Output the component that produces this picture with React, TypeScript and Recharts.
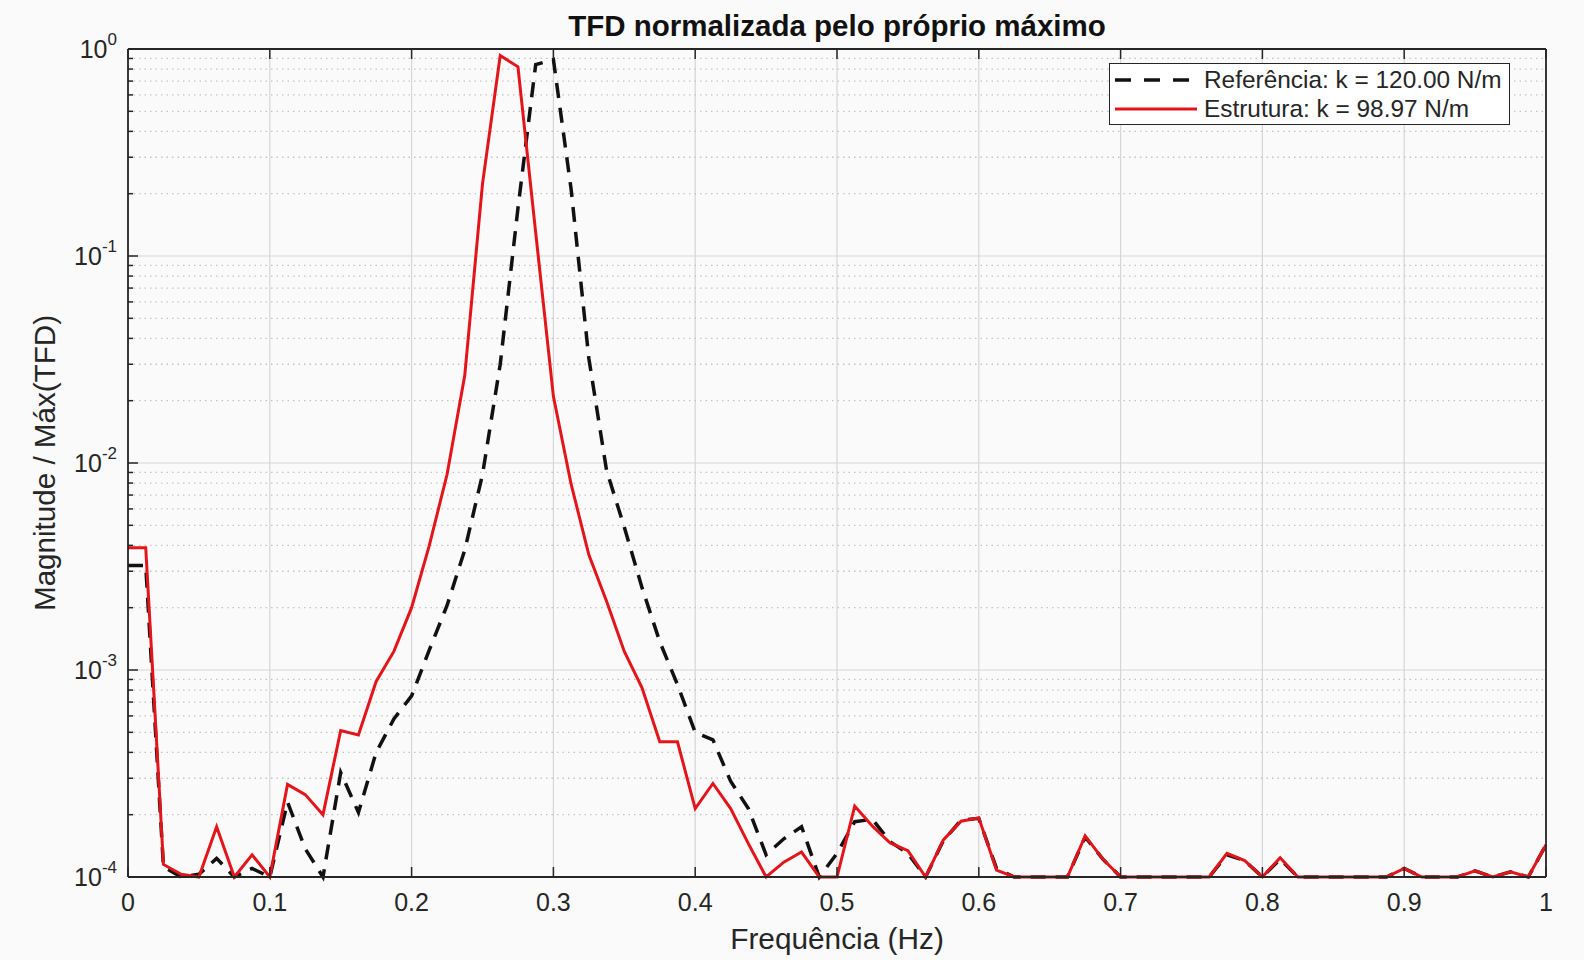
import React from 'react';
import { LineChart, Line, XAxis, YAxis, CartesianGrid, Legend } from 'recharts';

// frequências (Hz) — passo de 0.0125 Hz
const freqHz = [
  0, 0.0125, 0.025, 0.0375, 0.05, 0.0625, 0.075, 0.0875, 0.1, 0.1125,
  0.125, 0.1375, 0.15, 0.1625, 0.175, 0.1875, 0.2, 0.2125, 0.225, 0.2375,
  0.25, 0.2625, 0.275, 0.2875, 0.3, 0.3125, 0.325, 0.3375, 0.35, 0.3625,
  0.375, 0.3875, 0.4, 0.4125, 0.425, 0.4375, 0.45, 0.4625, 0.475, 0.4875,
  0.5, 0.5125, 0.525, 0.5375, 0.55, 0.5625, 0.575, 0.5875, 0.6, 0.6125,
  0.625, 0.6375, 0.65, 0.6625, 0.675, 0.6875, 0.7, 0.7125, 0.725, 0.7375,
  0.75, 0.7625, 0.775, 0.7875, 0.8, 0.8125, 0.825, 0.8375, 0.85, 0.8625,
  0.875, 0.8875, 0.9, 0.9125, 0.925, 0.9375, 0.95, 0.9625, 0.975, 0.9875,
  1,
];

// TFD normalizada — referência (k = 120 N/m)
const referencia = [
  3.2e-3, 3.2e-3, 1.12e-4, 1.0e-4, 1.03e-4, 1.23e-4, 1.0e-4, 1.1e-4, 1.0e-4, 2.3e-4,
  1.37e-4, 1.0e-4, 3.2e-4, 2.05e-4, 4.0e-4, 5.8e-4, 7.5e-4, 1.25e-3, 2.05e-3, 3.8e-3,
  8.8e-3, 0.03, 0.17, 0.84, 0.89, 0.21, 0.032, 9.2e-3, 4.9e-3, 2.5e-3,
  1.37e-3, 8.5e-4, 5.0e-4, 4.6e-4, 2.9e-4, 2.14e-4, 1.28e-4, 1.53e-4, 1.75e-4, 1.0e-4,
  1.3e-4, 1.85e-4, 1.9e-4, 1.48e-4, 1.3e-4, 1.0e-4, 1.5e-4, 1.88e-4, 1.92e-4, 1.1e-4,
  1.0e-4, 1.0e-4, 1.0e-4, 1.0e-4, 1.56e-4, 1.22e-4, 1.0e-4, 1.0e-4, 1.0e-4, 1.0e-4,
  1.0e-4, 1.0e-4, 1.28e-4, 1.2e-4, 1.0e-4, 1.22e-4, 1.0e-4, 1.0e-4, 1.0e-4, 1.0e-4,
  1.0e-4, 1.0e-4, 1.1e-4, 1.0e-4, 1.0e-4, 1.0e-4, 1.07e-4, 1.0e-4, 1.06e-4, 1.0e-4,
  1.43e-4,
];

// TFD normalizada — estrutura (k = 98.97 N/m)
const estrutura = [
  3.9e-3, 3.9e-3, 1.15e-4, 1.03e-4, 1.0e-4, 1.75e-4, 1.0e-4, 1.28e-4, 1.0e-4, 2.8e-4,
  2.5e-4, 2.0e-4, 5.1e-4, 4.85e-4, 8.8e-4, 1.23e-3, 2.0e-3, 4.0e-3, 8.8e-3, 0.0265,
  0.223, 0.93, 0.82, 0.13, 0.021, 7.9e-3, 3.6e-3, 2.15e-3, 1.23e-3, 8.2e-4,
  4.5e-4, 4.5e-4, 2.14e-4, 2.83e-4, 2.14e-4, 1.45e-4, 1.0e-4, 1.18e-4, 1.32e-4, 1.0e-4,
  1.0e-4, 2.2e-4, 1.76e-4, 1.46e-4, 1.34e-4, 1.0e-4, 1.51e-4, 1.86e-4, 1.93e-4, 1.08e-4,
  1.0e-4, 1.0e-4, 1.0e-4, 1.0e-4, 1.58e-4, 1.22e-4, 1.0e-4, 1.0e-4, 1.0e-4, 1.0e-4,
  1.0e-4, 1.0e-4, 1.3e-4, 1.2e-4, 1.0e-4, 1.24e-4, 1.0e-4, 1.0e-4, 1.0e-4, 1.0e-4,
  1.0e-4, 1.0e-4, 1.1e-4, 1.0e-4, 1.0e-4, 1.0e-4, 1.07e-4, 1.0e-4, 1.06e-4, 1.0e-4,
  1.43e-4,
];

const xTicks = [0, 0.1, 0.2, 0.3, 0.4, 0.5, 0.6, 0.7, 0.8, 0.9, 1];
const xTickLabels = ['0', '0.1', '0.2', '0.3', '0.4', '0.5', '0.6', '0.7', '0.8', '0.9', '1'];
const yDecadas = [1e-4, 1e-3, 1e-2, 1e-1, 1];
const yExpoentes = ['-4', '-3', '-2', '-1', '0'];
const yMenores = [
  2e-4, 3e-4, 4e-4, 5e-4, 6e-4, 7e-4, 8e-4, 9e-4,
  2e-3, 3e-3, 4e-3, 5e-3, 6e-3, 7e-3, 8e-3, 9e-3,
  2e-2, 3e-2, 4e-2, 5e-2, 6e-2, 7e-2, 8e-2, 9e-2,
  0.2, 0.3, 0.4, 0.5, 0.6, 0.7, 0.8, 0.9,
];
const yTodos = [...yDecadas, ...yMenores];

const data = freqHz.map((f, i) => ({ f, ref: referencia[i], est: estrutura[i] }));

const FONT = '"Liberation Sans", Arial, Helvetica, sans-serif';
const AXIS = '#262626';
const BG = '#fafafa';
const RED = '#e3151b';

const series = [
  { key: 'ref', name: 'Referência: k = 120.00 N/m', color: '#111111', dash: '15 10', width: 3.5 },
  { key: 'est', name: 'Estrutura: k = 98.97 N/m', color: RED, dash: undefined as string | undefined, width: 3 },
];

const isMajor = (v: number) => yDecadas.indexOf(v) >= 0;

function LeftTick(props: any) {
  const { x, y, payload } = props;
  const v = payload.value;
  const k = yDecadas.indexOf(v);
  const len = k >= 0 ? 10 : 5;
  return (
    <g>
      <line x1={x} x2={x + len} y1={y} y2={y} stroke={AXIS} strokeWidth={1.5} />
      {k >= 0 && (
        <text x={x - 11} y={y + 9} textAnchor="end" fontSize={25} fill={AXIS} fontFamily={FONT}>
          10
          <tspan dy={-13} fontSize={17}>{yExpoentes[k]}</tspan>
        </text>
      )}
    </g>
  );
}

function RightTick(props: any) {
  const { x, y, payload } = props;
  const len = isMajor(payload.value) ? 10 : 5;
  return <line x1={x} x2={x - len} y1={y} y2={y} stroke={AXIS} strokeWidth={1.5} />;
}

function BottomTick(props: any) {
  const { x, y, payload, index } = props;
  return (
    <g>
      <line x1={x} x2={x} y1={y} y2={y - 10} stroke={AXIS} strokeWidth={1.5} />
      <text x={x} y={y + 34} textAnchor="middle" fontSize={25} fill={AXIS} fontFamily={FONT}>
        {xTickLabels[index] ?? String(payload.value)}
      </text>
    </g>
  );
}

function TopTick(props: any) {
  const { x, y } = props;
  return <line x1={x} x2={x} y1={y} y2={y + 10} stroke={AXIS} strokeWidth={1.5} />;
}

function LegendBox() {
  return (
    <div
      style={{
        position: 'relative',
        width: 401,
        height: 62,
        boxSizing: 'border-box',
        border: `1.5px solid ${AXIS}`,
        background: '#ffffff',
        fontFamily: FONT,
        fontSize: 24.4,
        color: AXIS,
      }}
    >
      {series.map((s, i) => (
        <div key={s.key} style={{ position: 'absolute', left: 4, top: 2 + i * 29, height: 28, display: 'flex', alignItems: 'center' }}>
          <svg width={84} height={12} style={{ display: 'block' }}>
            <line x1={1} x2={83} y1={6} y2={6} stroke={s.color} strokeWidth={s.width} strokeDasharray={s.key === 'ref' ? '16 13' : undefined} />
          </svg>
          <span style={{ marginLeft: 6, whiteSpace: 'nowrap', lineHeight: '28px' }}>{s.name}</span>
        </div>
      ))}
    </div>
  );
}

export default function App() {
  return (
    <div style={{ position: 'absolute', left: 0, top: 0, width: 1584, height: 960, background: BG, fontFamily: FONT, overflow: 'hidden' }}>
      <LineChart width={1584} height={960} data={data} margin={{ top: 48, right: 37, bottom: 43, left: 28 }}>
        <CartesianGrid horizontal={false} verticalValues={xTicks} stroke="#d6d6d6" strokeWidth={1.2} />
        <CartesianGrid vertical={false} horizontalValues={yMenores} stroke="#c4c4c4" strokeWidth={1.3} strokeDasharray="1.5 4" />
        <CartesianGrid vertical={false} horizontalValues={yDecadas} stroke="#d6d6d6" strokeWidth={1.2} />
        <XAxis
          type="number"
          dataKey="f"
          domain={[0, 1]}
          ticks={xTicks}
          interval={0}
          height={40}
          tickSize={0}
          tickMargin={0}
          tickLine={false}
          axisLine={{ stroke: AXIS, strokeWidth: 1.8 }}
          tick={<BottomTick />}
        />
        <XAxis
          xAxisId="top"
          orientation="top"
          type="number"
          dataKey="f"
          domain={[0, 1]}
          ticks={xTicks}
          interval={0}
          height={1}
          tickSize={0}
          tickMargin={0}
          tickLine={false}
          axisLine={{ stroke: AXIS, strokeWidth: 1.8 }}
          tick={<TopTick />}
        />
        <YAxis
          scale="log"
          type="number"
          domain={[1e-4, 1]}
          ticks={yTodos}
          interval={0}
          width={100}
          tickSize={0}
          tickMargin={0}
          tickLine={false}
          axisLine={{ stroke: AXIS, strokeWidth: 1.8 }}
          tick={<LeftTick />}
        />
        <YAxis
          yAxisId="right"
          orientation="right"
          scale="log"
          type="number"
          domain={[1e-4, 1]}
          ticks={yTodos}
          interval={0}
          width={1}
          tickSize={0}
          tickMargin={0}
          tickLine={false}
          axisLine={{ stroke: AXIS, strokeWidth: 1.8 }}
          tick={<RightTick />}
        />
        <Legend
          verticalAlign="middle"
          align="center"
          wrapperStyle={{ position: 'absolute', left: 1109, top: 63, width: 401, height: 62 }}
          content={() => <LegendBox />}
        />
        {series.map((s) => (
          <Line
            key={s.key}
            type="linear"
            dataKey={s.key}
            name={s.name}
            stroke={s.color}
            strokeWidth={s.width}
            strokeDasharray={s.dash}
            dot={false}
            activeDot={false}
            isAnimationActive={false}
          />
        ))}
      </LineChart>
      <div style={{ position: 'absolute', left: 128, width: 1418, top: 8, textAlign: 'center', fontWeight: 'bold', fontSize: 29.5, color: '#111', lineHeight: '36px' }}>
        TFD normalizada pelo próprio máximo
      </div>
      <div style={{ position: 'absolute', left: 128, width: 1418, top: 921, textAlign: 'center', fontSize: 29.8, color: AXIS, lineHeight: '36px' }}>
        Frequência (Hz)
      </div>
      <div
        style={{
          position: 'absolute',
          left: 45 - 250,
          top: 463 - 18,
          width: 500,
          textAlign: 'center',
          fontSize: 29.6,
          color: AXIS,
          lineHeight: '36px',
          transform: 'rotate(-90deg)',
        }}
      >
        Magnitude / Máx(TFD)
      </div>
    </div>
  );
}
